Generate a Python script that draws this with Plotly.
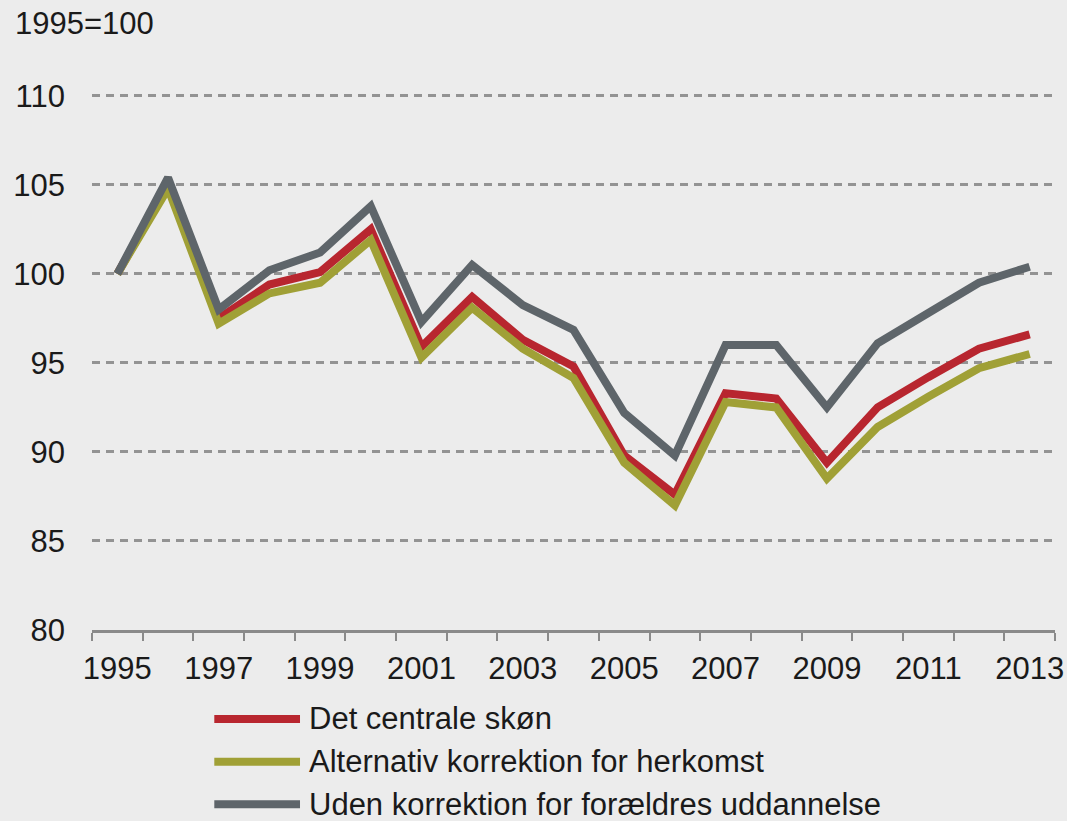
import plotly.graph_objects as go

years = list(range(1995, 2014))
det_centrale = [100, 105.0, 97.5, 99.4, 100.1, 102.5, 95.9, 98.7, 96.3, 94.8, 89.8, 87.6, 93.3, 93.0, 89.4, 92.5, 94.2, 95.8, 96.6]
alternativ = [100, 104.8, 97.2, 98.9, 99.5, 101.9, 95.3, 98.1, 95.8, 94.15, 89.4, 87.0, 92.8, 92.5, 88.5, 91.4, 93.1, 94.7, 95.5]
uden = [100, 105.4, 98.0, 100.2, 101.2, 103.8, 97.3, 100.5, 98.25, 96.85, 92.2, 89.8, 96.0, 96.0, 92.5, 96.1, 97.8, 99.5, 100.4]

names = ["Det centrale skøn", "Alternativ korrektion for herkomst", "Uden korrektion for forældres uddannelse"]
colors = ["#B8262F", "#A0A036", "#5E656A"]
series = [det_centrale, alternativ, uden]

y_ticks = [80, 85, 90, 95, 100, 105, 110]
x_ticks = list(range(1995, 2014, 2))

FONT = "Liberation Sans, Arial, sans-serif"
TXT = "#1a1a1a"
BG = "#ECECEC"
FS = 31

fig = go.Figure()
for name, col, vals in zip(names, colors, series):
    fig.add_trace(go.Scatter(x=years, y=vals, mode="lines", name=name,
                             line=dict(color=col, width=8), showlegend=False))

# manual legend (pixel-mapped to paper coords)
leg_y = [-0.166, -0.246, -0.325]
for name, col, yy in zip(names, colors, leg_y):
    fig.add_shape(type="line", xref="paper", yref="paper", x0=0.127, x1=0.216, y0=yy, y1=yy,
                  line=dict(color=col, width=8))
    fig.add_annotation(xref="paper", yref="paper", x=0.2233, y=yy, text=name, showarrow=False,
                       xanchor="left", yanchor="middle", font=dict(size=FS, color=TXT, family=FONT))

fig.add_annotation(xref="paper", yref="paper", x=-0.082, y=1.132, text="1995=100", showarrow=False,
                   xanchor="left", yanchor="middle", font=dict(size=FS, color=TXT, family=FONT))

fig.update_layout(
    width=1067, height=821,
    margin=dict(l=92, r=12, t=94, b=191),
    paper_bgcolor=BG, plot_bgcolor=BG,
    font=dict(family=FONT, size=FS, color=TXT),
    showlegend=False,
)
fig.update_xaxes(
    range=[1994.5, 2013.5], tickmode="array", tickvals=x_ticks, ticktext=[str(v) for v in x_ticks],
    ticks="", showgrid=False, zeroline=False, automargin=False,
    showline=True, linecolor="#8A8A8A", linewidth=3,
    minor=dict(tickmode="linear", tick0=1994.5, dtick=1, ticks="outside", ticklen=8,
               tickcolor="#8A8A8A", tickwidth=2, showgrid=False),
    ticklabelstandoff=9,
    tickfont=dict(size=FS, color=TXT, family=FONT),
)
fig.update_yaxes(
    range=[80, 110.1], tickmode="array", tickvals=y_ticks, ticks="",
    showgrid=True, gridcolor="#939393", gridwidth=2.5, griddash="8px,6px",
    zeroline=False, showline=False, automargin=False,
    ticklabelstandoff=26,
    tickfont=dict(size=FS, color=TXT, family=FONT),
)

fig.write_html("out.html", config={"displayModeBar": False},
               post_script="document.body.style.margin='0';document.body.style.background='%s';" % BG)
